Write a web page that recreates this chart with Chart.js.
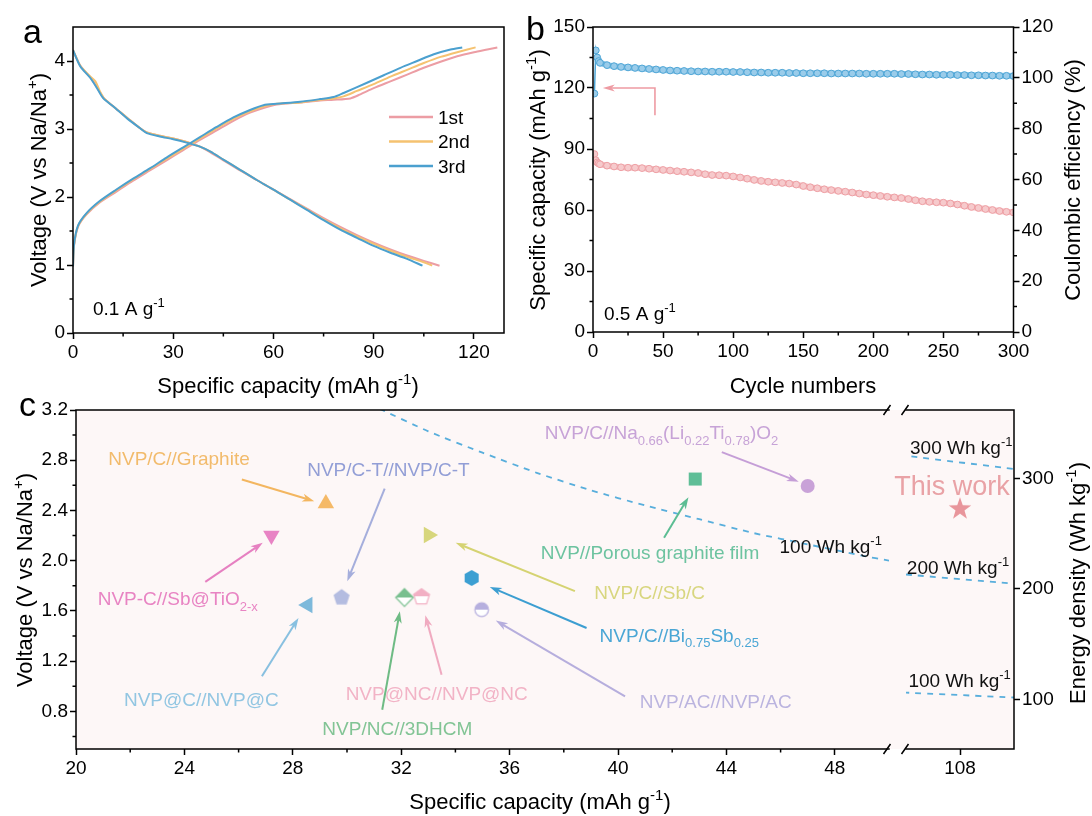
<!DOCTYPE html>
<html>
<head>
<meta charset="utf-8">
<script src="https://cdn.jsdelivr.net/npm/chart.js@4.4.1/dist/chart.umd.min.js"></script>
<style>
  html, body { margin: 0; padding: 0; background: #fff; }
  #wrap { position: relative; width: 1092px; height: 816px; overflow: hidden; }
  canvas { position: absolute; }
  #ca { left: 0; top: 0; }
  #cb { left: 520px; top: 0; }
  #cc2 { left: 880px; top: 390px; }
  #cc1 { left: 0; top: 390px; }
</style>
</head>
<body>
<div id="wrap">
  <canvas id="ca" width="530" height="400"></canvas>
  <canvas id="cb" width="572" height="400"></canvas>
  <canvas id="cc2" width="212" height="426"></canvas>
  <canvas id="cc1" width="900" height="426"></canvas>
</div>
<script>
// ---- panel a: charge / discharge profiles (mAh g-1, V) ----
const chgCap1 = [0, 0.3, 1.5, 4, 8, 13, 18, 23, 28, 33, 38, 43, 48, 53, 57, 61, 68, 74, 78, 83, 86, 90, 95, 100, 105, 110, 115, 120, 124, 127];
const chgV1   = [0.98, 1.28, 1.56, 1.74, 1.92, 2.08, 2.24, 2.39, 2.54, 2.69, 2.84, 2.98, 3.12, 3.24, 3.31, 3.36, 3.39, 3.42, 3.43, 3.45, 3.51, 3.6, 3.7, 3.8, 3.9, 3.99, 4.07, 4.13, 4.17, 4.2];
const disCap1 = [0, 2.2, 5.2, 7.2, 9.1, 12.1, 16.1, 20.1, 22.1, 26, 30, 34, 38, 41, 45, 50, 55, 60, 65, 70, 75, 80, 85, 90, 95, 100, 105, 109.7];
const disV1   = [4.16, 3.93, 3.76, 3.61, 3.46, 3.33, 3.17, 3.01, 2.95, 2.9, 2.86, 2.81, 2.74, 2.66, 2.54, 2.39, 2.25, 2.11, 1.97, 1.83, 1.69, 1.56, 1.44, 1.33, 1.23, 1.14, 1.06, 0.99];
const chgCap2 = [0, 0.3, 1.5, 4, 8, 13, 18, 23, 28, 33, 38, 43, 48, 53, 57, 61, 68, 74, 78, 81, 85, 90, 95, 100, 105, 110, 115, 120.5];
const chgV2   = [0.98, 1.29, 1.57, 1.75, 1.93, 2.1, 2.26, 2.41, 2.56, 2.71, 2.86, 3.01, 3.15, 3.26, 3.33, 3.37, 3.39, 3.43, 3.45, 3.48, 3.56, 3.66, 3.77, 3.87, 3.97, 4.06, 4.13, 4.2];
const disCap2 = [0, 2.2, 5.2, 6.7, 8, 9.3, 12.1, 16.1, 20.1, 22.1, 26, 30, 34, 38, 41, 45, 50, 55, 60, 65, 70, 75, 80, 85, 90, 95, 100, 105, 107.5];
const disV2   = [4.16, 3.93, 3.77, 3.7, 3.56, 3.45, 3.33, 3.17, 3.01, 2.95, 2.9, 2.86, 2.81, 2.74, 2.67, 2.55, 2.4, 2.25, 2.11, 1.96, 1.82, 1.67, 1.54, 1.42, 1.31, 1.21, 1.12, 1.04, 0.99];
const chgCap3 = [0, 0.3, 1.5, 4, 8, 13, 18, 23, 28, 33, 38, 43, 48, 53, 57, 61, 68, 74, 78, 81, 88, 93, 98, 103, 108, 113, 116.5];
const chgV3   = [0.98, 1.3, 1.58, 1.76, 1.94, 2.11, 2.27, 2.42, 2.58, 2.73, 2.88, 3.03, 3.17, 3.28, 3.35, 3.37, 3.4, 3.44, 3.47, 3.53, 3.68, 3.79, 3.9, 4.0, 4.1, 4.17, 4.2];
const disCap3 = [0, 2.2, 5.2, 7.2, 9.1, 12.1, 16.1, 20.1, 22.1, 26, 30, 34, 38, 41, 45, 50, 55, 60, 65, 70, 75, 80, 85, 90, 95, 100, 104.6];
const disV3   = [4.16, 3.92, 3.75, 3.6, 3.45, 3.33, 3.16, 3.01, 2.94, 2.89, 2.85, 2.8, 2.74, 2.67, 2.55, 2.4, 2.25, 2.11, 1.96, 1.81, 1.66, 1.52, 1.4, 1.28, 1.18, 1.09, 0.99];
const cycleLabels = ['1st', '2nd', '3rd'];
const capTicksA = [0, 30, 60, 90, 120];
const capMinorA = [15, 45, 75, 105];
const voltTicksA = [0, 1, 2, 3, 4];
const voltMinorA = [0.5, 1.5, 2.5, 3.5];

// ---- panel b: cycling at 0.5 A g-1 ----
const cycleNo = [1, 2, 3, 4, 5, 10, 15, 20, 25, 30, 35, 40, 45, 50, 55, 60, 65, 70, 75, 80, 85, 90, 95, 100,
  105, 110, 115, 120, 125, 130, 135, 140, 145, 150, 155, 160, 165, 170, 175, 180, 185, 190, 195, 200,
  205, 210, 215, 220, 225, 230, 235, 240, 245, 250, 255, 260, 265, 270, 275, 280, 285, 290, 295, 300];
const capB = [87.5, 84.5, 83.4, 82.9, 82.5, 81.8, 81.4, 81.0, 80.8, 80.8, 80.6, 80.3, 80.0, 79.7, 79.4, 79.1, 78.8, 78.5, 78.2, 77.6, 77.2, 77.1, 76.9, 76.5,
  76.0, 75.4, 74.8, 74.3, 73.9, 73.6, 73.3, 73.0, 72.5, 71.8, 71.2, 70.7, 70.2, 69.8, 69.4, 69.0, 68.6, 68.1, 67.6, 67.3,
  66.9, 66.5, 66.2, 65.9, 65.4, 64.8, 64.3, 64.0, 63.8, 63.6, 63.2, 62.7, 62.1, 61.5, 61.0, 60.5, 60.0, 59.5, 59.1, 58.8];
const ceB = [93.8, 110.8, 108.0, 106.6, 105.9, 105.0, 104.6, 104.3, 104.1, 103.9, 103.7, 103.5, 103.3, 103.1, 102.9, 102.8, 102.7, 102.6, 102.5, 102.5, 102.4, 102.4, 102.4, 102.3,
  102.3, 102.2, 102.1, 102.1, 102.0, 102.0, 102.0, 101.9, 101.9, 101.8, 101.8, 101.8, 101.8, 101.7, 101.7, 101.7, 101.7, 101.7, 101.6, 101.6,
  101.6, 101.6, 101.6, 101.5, 101.5, 101.4, 101.3, 101.3, 101.2, 101.2, 101.2, 101.1, 101.1, 101.0, 101.0, 100.9, 100.9, 100.8, 100.8, 100.7];
const cycleTicks = [0, 50, 100, 150, 200, 250, 300];
const cycleMinor = [25, 75, 125, 175, 225, 275];
const capTicksB = [0, 30, 60, 90, 120, 150];
const capMinorB = [15, 45, 75, 105, 135];
const ceTicks = [0, 20, 40, 60, 80, 100, 120];
const ceMinor = [10, 30, 50, 70, 90, 110];
const guideArrowB = [[44.2, 106.6], [44.2, 120], [7, 120]];

// ---- panel c: full-cell comparison ----
const devName = ['NVP/C//Graphite', 'NVP/C-T//NVP/C-T', 'NVP-C//Sb@TiO_{2-x}', 'NVP@C//NVP@C', 'NVP/NC//3DHCM',
  'NVP@NC//NVP@NC', 'NVP/C//Sb/C', 'NVP/C//Bi_{0.75}Sb_{0.25}', 'NVP/AC//NVP/AC', 'NVP//Porous graphite film',
  'NVP/C//Na_{0.66}(Li_{0.22}Ti_{0.78})O_{2}'];
const devCap = [29.22, 29.8, 27.21, 28.55, 32.12, 32.75, 33.01, 34.6, 34.97, 42.85, 47.0];
const devV   = [2.455, 1.713, 2.2, 1.647, 1.707, 1.717, 2.205, 1.862, 1.61, 2.65, 2.595];
const thisWorkCap = [108];
const thisWorkV = [2.42];
// 100 Wh kg-1 curve in the 20-50 segment
const iso100Cap = [31.2, 33, 35, 37, 39, 41, 43, 45, 47, 49, 50];
const iso100V   = [3.21, 3.03, 2.86, 2.7, 2.56, 2.44, 2.33, 2.22, 2.13, 2.04, 2.0];
// the three energy lines in the 106-110 segment
const iso300CapR = [106.2, 110], iso300VR = [2.83, 2.73];
const iso200CapR = [106.0, 109.8], iso200VR = [1.89, 1.82];
const iso100CapR = [105.9, 110], iso100VR = [0.95, 0.91];
const capTicksC = [20, 24, 28, 32, 36, 40, 44, 48];
const capMinorC = [22, 26, 30, 34, 38, 42, 46];
const voltTicksC = [0.8, 1.2, 1.6, 2.0, 2.4, 2.8, 3.2];
const voltMinorC = [0.6, 1.0, 1.4, 1.8, 2.2, 2.6, 3.0];
const energyTicks = [100, 200, 300];
// where each name sits (left edge, text middle) and where its arrow runs, in axis units
const labelCap = [21.19, 28.53, 20.8, 21.77, 29.09, 29.95, 39.12, 39.32, 40.8, 37.15, 37.3];
const labelV   = [2.82, 2.727, 1.698, 0.893, 0.667, 0.946, 1.749, 1.41, 0.88, 2.068, 3.02];
const arrowFrom = [[26.12, 2.647], [31.39, 2.573], [24.77, 1.831], [26.86, 1.079], [31.3, 0.813], [33.49, 1.092],
  [38.41, 1.757], [38.84, 1.464], [40.26, 0.92], [41.7, 2.182], [43.83, 2.865]];
const arrowTo = [[28.79, 2.474], [30.01, 1.837], [26.89, 2.142], [28.21, 1.544], [31.95, 1.597], [32.89, 1.565],
  [34.01, 2.142], [35.27, 1.791], [35.49, 1.523], [42.6, 2.506], [46.67, 2.629]];

const FONT = '"Liberation Sans", Arial, Helvetica, sans-serif';
Chart.defaults.font.family = FONT;

const C1 = '#EC9DA4', C2 = '#F5C270', C3 = '#4BA0CF';
const DASH = '#58AEDC';
const devColor = ['#F5B967', '#B4BCE0', '#E883C4', '#7DB9DB', '#79BF8F', '#F2B0C4', '#D7D67C', '#3C9FD2', '#B6AFDE', '#5FBE97', '#C9A2D8'];
const devText  = ['#F2BB6C', '#929ED6', '#E884C3', '#92C6E2', '#82C495', '#F2B3C6', '#D8D67F', '#4AA6D5', '#BBB4DF', '#6DC3A0', '#C7A3D7'];
const devArrow = ['#F3B660', '#A5AEDC', '#E680C1', '#88C0E0', '#6EBB84', '#F0AAC0', '#D5D372', '#3C9ED1', '#B6AEDD', '#5CBD93', '#C59ED7'];

const pts = (xs, ys) => xs.map((x, i) => ({ x, y: ys[i] }));

// rich text: _{..} subscript, ^{..} superscript
function parseRich(str) {
  const segs = [];
  const re = /([_^])\{([^}]*)\}/g;
  let last = 0, m;
  while ((m = re.exec(str))) {
    if (m.index > last) segs.push({ t: str.slice(last, m.index), k: 0 });
    segs.push({ t: m[2], k: m[1] === '_' ? 1 : -1 });
    last = re.lastIndex;
  }
  if (last < str.length) segs.push({ t: str.slice(last), k: 0 });
  return segs;
}

function drawRich(ctx, str, x, y, o) {
  const size = o.size || 19;
  const segs = parseRich(str);
  const fontFor = k => (k ? Math.round(size * 0.68) : size) + 'px ' + FONT;
  let w = 0;
  segs.forEach(s => { ctx.font = fontFor(s.k); s.w = ctx.measureText(s.t).width; w += s.w; });
  ctx.save();
  ctx.translate(x, y);
  if (o.rotate) ctx.rotate(o.rotate);
  let cx = o.align === 'center' ? -w / 2 : (o.align === 'right' ? -w : 0);
  ctx.fillStyle = o.color || '#000';
  ctx.textBaseline = 'alphabetic';
  ctx.textAlign = 'left';
  segs.forEach(s => {
    ctx.font = fontFor(s.k);
    const dy = s.k === 1 ? size * 0.28 : (s.k === -1 ? -size * 0.4 : 0);
    ctx.fillText(s.t, cx, size * 0.36 + dy);
    cx += s.w;
  });
  ctx.restore();
}

function drawArrow(ctx, path, color, lw, head, hw) {
  const n = path.length;
  const [x2, y2] = path[n - 1], [x1, y1] = path[n - 2];
  const ang = Math.atan2(y2 - y1, x2 - x1);
  ctx.save();
  ctx.strokeStyle = color;
  ctx.fillStyle = color;
  ctx.lineWidth = lw;
  ctx.beginPath();
  ctx.moveTo(path[0][0], path[0][1]);
  for (let i = 1; i < n - 1; i++) ctx.lineTo(path[i][0], path[i][1]);
  ctx.lineTo(x2 - Math.cos(ang) * head * 0.7, y2 - Math.sin(ang) * head * 0.7);
  ctx.stroke();
  ctx.translate(x2, y2);
  ctx.rotate(ang);
  ctx.beginPath();
  ctx.moveTo(0, 0);
  ctx.lineTo(-head, -hw);
  ctx.lineTo(-head * 0.72, 0);
  ctx.lineTo(-head, hw);
  ctx.closePath();
  ctx.fill();
  ctx.restore();
}

// frame, minor ticks, axis breaks and all the lettering
function decor(spec) {
  return {
    id: 'decor',
    beforeDatasetsDraw(chart) {
      if (!spec.bg) return;
      const a = chart.chartArea, ctx = chart.ctx;
      const ext = spec.bgLeft || 0;
      ctx.save();
      ctx.fillStyle = spec.bg;
      ctx.fillRect(a.left - ext, a.top, a.right - a.left + ext, a.bottom - a.top);
      ctx.restore();
    },
    afterDraw(chart) {
      const { ctx, chartArea: a, scales } = chart;
      ctx.save();
      ctx.strokeStyle = '#000';
      ctx.lineWidth = 1.5;
      const f = spec.frame;
      ctx.beginPath();
      if (f.top) { ctx.moveTo(a.left - 0.75, a.top); ctx.lineTo(a.right + 0.75, a.top); }
      if (f.bottom) { ctx.moveTo(a.left - 0.75, a.bottom); ctx.lineTo(a.right + 0.75, a.bottom); }
      if (f.left) { ctx.moveTo(a.left, a.top); ctx.lineTo(a.left, a.bottom); }
      if (f.right) { ctx.moveTo(a.right, a.top); ctx.lineTo(a.right, a.bottom); }
      ctx.stroke();

      (spec.minor || []).forEach(m => {
        const s = scales[m.scale];
        ctx.beginPath();
        m.values.forEach(v => {
          const p = s.getPixelForValue(v);
          if (m.side === 'bottom') { ctx.moveTo(p, a.bottom); ctx.lineTo(p, a.bottom + 3.5); }
          else if (m.side === 'left') { ctx.moveTo(a.left, p); ctx.lineTo(a.left - 3.5, p); }
          else { ctx.moveTo(a.right, p); ctx.lineTo(a.right + 3.5, p); }
        });
        ctx.stroke();
      });

      if (spec.breakAt) {
        const bx = spec.breakAt === 'right' ? a.right - 2 : a.left - 1;
        ctx.beginPath();
        [a.top, a.bottom].forEach(by => { ctx.moveTo(bx - 3.5, by + 5); ctx.lineTo(bx + 3.5, by - 5); });
        ctx.stroke();
      }

      (spec.arrows || []).forEach(ar => {
        const ys = scales[ar.yAxis || 'y'];
        const path = ar.path.map(p => [scales.x.getPixelForValue(p[0]), ys.getPixelForValue(p[1])]);
        drawArrow(ctx, path, ar.color, ar.lw || 2, ar.head || 12, ar.hw || 4);
      });

      (spec.dataTexts || []).forEach(t => {
        drawRich(ctx, t.text, scales.x.getPixelForValue(t.x), scales[t.yAxis || 'y'].getPixelForValue(t.y), t);
      });

      (spec.texts || []).forEach(t => drawRich(ctx, t.text, t.x, t.y, t));

      if (spec.legend) {
        const L = spec.legend;
        L.labels.forEach((lab, i) => {
          const y = L.y0 + i * L.dy;
          ctx.strokeStyle = L.colors[i];
          ctx.lineWidth = 2.5;
          ctx.beginPath();
          ctx.moveTo(L.x1, y);
          ctx.lineTo(L.x2, y);
          ctx.stroke();
          drawRich(ctx, lab, L.x2 + 5, y, { size: 19, color: '#000' });
        });
      }
      ctx.restore();
    }
  };
}

function axis(ticksArr, fmt, extra) {
  return Object.assign({
    type: 'linear',
    afterBuildTicks: s => { s.ticks = ticksArr.map(v => ({ value: v })); },
    grid: { display: true, drawOnChartArea: false, drawTicks: true, tickLength: 6, tickColor: '#000', tickWidth: 1.5 },
    border: { display: false },
    ticks: { color: '#000', font: { family: FONT, size: 19 }, padding: 2, autoSkip: false, maxRotation: 0, callback: fmt }
  }, extra);
}

const baseOpts = {
  responsive: false,
  animation: false,
  events: [],
  devicePixelRatio: 1,
  plugins: { legend: { display: false }, tooltip: { enabled: false } }
};

// ---------- panel a ----------
function profile(label, xs, ys, color, order) {
  return { label, data: pts(xs, ys), showLine: true, borderColor: color, borderWidth: 2, pointRadius: 0, tension: 0.25, order };
}

new Chart(document.getElementById('ca'), {
  type: 'scatter',
  data: {
    datasets: [
      profile(cycleLabels[0], chgCap1, chgV1, C1, 3), profile(cycleLabels[0], disCap1, disV1, C1, 3),
      profile(cycleLabels[1], chgCap2, chgV2, C2, 2), profile(cycleLabels[1], disCap2, disV2, C2, 2),
      profile(cycleLabels[2], chgCap3, chgV3, C3, 1), profile(cycleLabels[2], disCap3, disV3, C3, 1)
    ]
  },
  options: Object.assign({}, baseOpts, {
    layout: { padding: { top: 27, right: 26, bottom: 0, left: 0 } },
    scales: {
      x: axis(capTicksA, v => String(v), { min: 0, max: 129, afterFit: s => { s.height = 67; } }),
      y: axis(voltTicksA, v => String(v), { min: 0, max: 4.5, afterFit: s => { s.width = 73; } })
    }
  }),
  plugins: [decor({
    frame: { top: true, right: true, bottom: true, left: true },
    minor: [{ scale: 'x', values: capMinorA, side: 'bottom' }, { scale: 'y', values: voltMinorA, side: 'left' }],
    legend: { labels: cycleLabels, colors: [C1, C2, C3], x1: 389, x2: 433, y0: 117, dy: 24.5 },
    texts: [
      { text: 'a', x: 23, y: 31, size: 34 },
      { text: 'Voltage (V vs Na/Na^{+})', x: 38, y: 180, size: 22, align: 'center', rotate: -Math.PI / 2 },
      { text: 'Specific capacity (mAh g^{-1})', x: 288, y: 385, size: 22, align: 'center' },
      { text: '0.1 A g^{-1}', x: 93, y: 308, size: 19 }
    ]
  })]
});

// ---------- panel b ----------
// thin joins for the first few cycles, a thick band for the dense run after that
const bandWidth = c => (c.p0DataIndex < 3 ? 1.5 : 6);

new Chart(document.getElementById('cb'), {
  type: 'scatter',
  data: {
    datasets: [
      { label: 'Specific capacity', data: pts(cycleNo, capB), yAxisID: 'y', showLine: true, borderColor: '#F3C0C3', borderWidth: 6,
        segment: { borderWidth: bandWidth },
        pointRadius: 3.4, pointBorderWidth: 1, pointBorderColor: '#EE9FA4', pointBackgroundColor: '#F6CACC' },
      { label: 'Coulombic efficiency', data: pts(cycleNo, ceB), yAxisID: 'y2', showLine: true, borderColor: '#86C2E6', borderWidth: 6,
        segment: { borderWidth: bandWidth, borderColor: c => (c.p0DataIndex < 3 ? '#4FA6D6' : '#86C2E6') },
        pointRadius: 3.4, pointBorderWidth: 1, pointBorderColor: '#4FA6D6', pointBackgroundColor: '#9ACCEA' }
    ]
  },
  options: Object.assign({}, baseOpts, {
    layout: { padding: { top: 27, right: 0, bottom: 0, left: 0 } },
    scales: {
      x: axis(cycleTicks, v => String(v), { min: 0, max: 300, afterFit: s => { s.height = 68; } }),
      y: axis(capTicksB, v => String(v), { min: 0, max: 150, afterFit: s => { s.width = 73; } }),
      y2: axis(ceTicks, v => String(v), { position: 'right', min: 0, max: 120, afterFit: s => { s.width = 78.5; } })
    }
  }),
  plugins: [decor({
    frame: { top: true, right: true, bottom: true, left: true },
    minor: [
      { scale: 'x', values: cycleMinor, side: 'bottom' },
      { scale: 'y', values: capMinorB, side: 'left' },
      { scale: 'y2', values: ceMinor, side: 'right' }
    ],
    arrows: [{ path: guideArrowB, color: '#EE9BA3', lw: 1.6, head: 12, hw: 3.5 }],
    texts: [
      { text: 'b', x: 6, y: 28, size: 34 },
      { text: 'Specific capacity (mAh g^{-1})', x: 17, y: 180, size: 22, align: 'center', rotate: -Math.PI / 2 },
      { text: 'Coulombic efficiency (%)', x: 552, y: 180, size: 22, align: 'center', rotate: -Math.PI / 2 },
      { text: 'Cycle numbers', x: 283, y: 385, size: 22, align: 'center' },
      { text: '0.5 A g^{-1}', x: 84, y: 313, size: 19 }
    ]
  })]
});

// ---------- panel c: marker glyphs ----------
function glyph(size, draw) {
  const c = document.createElement('canvas');
  c.width = size;
  c.height = size;
  const g = c.getContext('2d');
  g.translate(size / 2, size / 2);
  draw(g);
  return c;
}
function polyPath(g, n, r, dy) {
  g.beginPath();
  for (let i = 0; i < n; i++) {
    const t = i * 2 * Math.PI / n;
    const px = r * Math.sin(t), py = -r * Math.cos(t) + dy;
    if (i) g.lineTo(px, py); else g.moveTo(px, py);
  }
  g.closePath();
}
function starPath(g, R, r, dy) {
  g.beginPath();
  for (let i = 0; i < 10; i++) {
    const t = i * Math.PI / 5, rr = i % 2 ? r : R;
    const px = rr * Math.sin(t), py = -rr * Math.cos(t) + dy;
    if (i) g.lineTo(px, py); else g.moveTo(px, py);
  }
  g.closePath();
}
function halfFilled(size, color, path) {
  return glyph(size, g => {
    path(g); g.fillStyle = '#fff'; g.fill();
    g.save();
    g.beginPath(); g.rect(-size, -size, 2 * size, size); g.clip();
    path(g); g.fillStyle = color; g.fill();
    g.restore();
    path(g); g.strokeStyle = color; g.lineWidth = 1.2; g.stroke();
  });
}
const fullPoly = (color, n, r, dy) => glyph(22, g => { polyPath(g, n, r, dy); g.fillStyle = color; g.fill(); });

const devStyle = [
  { pointStyle: 'triangle', pointRadius: 9.5, pointRotation: 0 },
  { pointStyle: fullPoly(devColor[1], 5, 8.5, 0.8) },
  { pointStyle: 'triangle', pointRadius: 9.5, pointRotation: 180 },
  { pointStyle: 'triangle', pointRadius: 9.5, pointRotation: -90 },
  { pointStyle: halfFilled(22, devColor[4], g => polyPath(g, 4, 8.8, 0)) },
  { pointStyle: halfFilled(22, devColor[5], g => polyPath(g, 5, 8.4, 0.8)) },
  { pointStyle: 'triangle', pointRadius: 9.5, pointRotation: 90 },
  { pointStyle: fullPoly(devColor[7], 6, 8.1, 0) },
  { pointStyle: halfFilled(18, devColor[8], g => { g.beginPath(); g.arc(0, 0, 6.8, 0, 2 * Math.PI); }) },
  { pointStyle: 'rect', pointRadius: 9.2 },
  { pointStyle: 'circle', pointRadius: 7 }
];

const deviceSets = devName.map((name, i) => Object.assign({
  label: name.replace(/[_^]\{([^}]*)\}/g, '$1'),
  data: [{ x: devCap[i], y: devV[i] }],
  pointRadius: 8,
  pointBorderWidth: 0,
  pointBackgroundColor: devColor[i],
  pointBorderColor: devColor[i]
}, devStyle[i]));

function dashed(label, xs, ys) {
  return { label, data: pts(xs, ys), showLine: true, borderColor: DASH, borderWidth: 1.8, borderDash: [6, 6], pointRadius: 0, tension: 0.2 };
}

const FILL_C = '#FDF7F7';

// right piece of the broken axis (106-110) goes underneath
new Chart(document.getElementById('cc2'), {
  type: 'scatter',
  data: {
    datasets: [
      dashed('300 Wh kg-1', iso300CapR, iso300VR),
      dashed('200 Wh kg-1', iso200CapR, iso200VR),
      dashed('100 Wh kg-1', iso100CapR, iso100VR),
      { label: 'This work', data: pts(thisWorkCap, thisWorkV),
        pointStyle: glyph(26, g => { starPath(g, 11.8, 4.7, 1.1); g.fillStyle = '#E8959B'; g.fill(); }), pointRadius: 8 }
    ]
  },
  options: Object.assign({}, baseOpts, {
    layout: { padding: { top: 20, right: 0, bottom: 0, left: 26 } },
    scales: {
      x: axis([108], v => String(v), { min: 106, max: 110, afterFit: s => { s.height = 67; } }),
      y: { type: 'linear', display: false, min: 0.5, max: 3.2 },
      y2: axis(energyTicks, v => String(v), { position: 'right', min: 55, max: 362, afterFit: s => { s.width = 78; } })
    }
  }),
  plugins: [decor({
    bg: FILL_C,
    bgLeft: 17,
    frame: { top: true, right: true, bottom: true, left: false },
    breakAt: 'left',
    dataTexts: [
      { text: '300 Wh kg^{-1}', x: 106.15, y: 2.908, size: 19, color: '#111' },
      { text: 'This work', x: 107.7, y: 2.603, size: 27, color: '#E9A2A6', align: 'center' },
      { text: '200 Wh kg^{-1}', x: 106.03, y: 1.952, size: 19, color: '#111' },
      { text: '100 Wh kg^{-1}', x: 106.09, y: 1.05, size: 19, color: '#111' }
    ],
    texts: [
      { text: 'Energy density (Wh kg^{-1})', x: 197, y: 193, size: 22, align: 'center', rotate: -Math.PI / 2 }
    ]
  })]
});

// left piece (20-50)
new Chart(document.getElementById('cc1'), {
  type: 'scatter',
  data: { datasets: [dashed('100 Wh kg-1', iso100Cap, iso100V)].concat(deviceSets) },
  options: Object.assign({}, baseOpts, {
    layout: { padding: { top: 20, right: 11, bottom: 0, left: 0 } },
    scales: {
      x: axis(capTicksC, v => String(v), { min: 20, max: 50, afterFit: s => { s.height = 67; } }),
      y: axis(voltTicksC, v => v.toFixed(1), { min: 0.5, max: 3.2, afterFit: s => { s.width = 76; } })
    }
  }),
  plugins: [decor({
    bg: FILL_C,
    frame: { top: true, right: false, bottom: true, left: true },
    breakAt: 'right',
    minor: [{ scale: 'x', values: capMinorC, side: 'bottom' }, { scale: 'y', values: voltMinorC, side: 'left' }],
    arrows: arrowFrom.map((p, i) => ({ path: [p, arrowTo[i]], color: devArrow[i], lw: 2, head: 12, hw: 4 })),
    dataTexts: devName.map((name, i) => ({ text: name, x: labelCap[i], y: labelV[i], size: 19, color: devText[i] }))
      .concat([{ text: '100 Wh kg^{-1}', x: 45.96, y: 2.116, size: 19, color: '#111' }]),
    texts: [
      { text: 'c', x: 19, y: 14, size: 34 },
      { text: 'Voltage (V vs Na/Na^{+})', x: 24, y: 190, size: 22, align: 'center', rotate: -Math.PI / 2 },
      { text: 'Specific capacity (mAh g^{-1})', x: 540, y: 411, size: 22, align: 'center' }
    ]
  })]
});
</script>
</body>
</html>
